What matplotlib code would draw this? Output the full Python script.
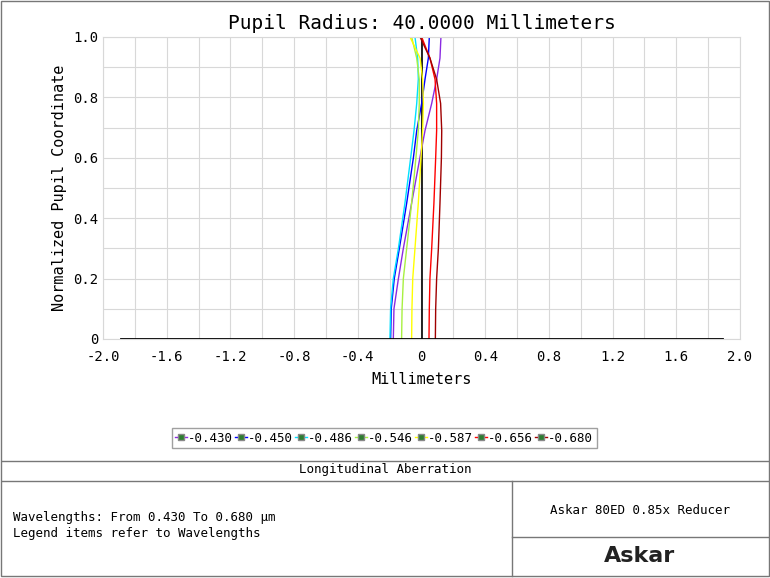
import matplotlib.pyplot as plt
import numpy as np
from matplotlib.lines import Line2D
from matplotlib.patches import Rectangle

plt.rcParams['font.family'] = ['DejaVu Sans Mono', 'DejaVu Sans']

pupil = [0.0, 0.1, 0.2, 0.3, 0.45, 0.6, 0.69, 0.78, 0.86, 0.93, 1.0]
wavelengths = ['0.430', '0.450', '0.486', '0.546', '0.587', '0.656', '0.680']
colors = ['#8a2be2', '#0000ff', '#00e0ff', '#a8f040', '#ffff00', '#ff0000', '#a00000']
shift_430 = [-0.177, -0.173, -0.145, -0.114, -0.062, -0.010, 0.022, 0.064, 0.095, 0.116, 0.122]
shift_450 = [-0.194, -0.190, -0.171, -0.139, -0.093, -0.051, -0.030, 0.001, 0.022, 0.043, 0.049]
shift_486 = [-0.198, -0.194, -0.177, -0.145, -0.104, -0.068, -0.047, -0.030, -0.020, -0.024, -0.041]
shift_546 = [-0.125, -0.122, -0.114, -0.093, -0.062, -0.035, -0.020, -0.014, -0.014, -0.030, -0.062]
shift_587 = [-0.062, -0.060, -0.055, -0.041, -0.020, -0.003, 0.007, 0.012, 0.007, -0.009, -0.072]
shift_656 = [0.047, 0.049, 0.053, 0.064, 0.078, 0.089, 0.095, 0.095, 0.085, 0.053, 0.001]
shift_680 = [0.087, 0.089, 0.095, 0.106, 0.116, 0.125, 0.127, 0.120, 0.095, 0.053, -0.009]
shifts = [shift_430, shift_450, shift_486, shift_546, shift_587, shift_656, shift_680]

W, H = 770, 578
fig = plt.figure(figsize=(7.7, 5.78), dpi=100)

def fx(px):
    return px / W

def fy(py):
    return 1 - py / H

ax = fig.add_axes([fx(103), fy(339), fx(740) - fx(103), fy(37) - fy(339)])
ax.axvline(0, color='black', lw=1.2, zorder=1)
for s, c in zip(shifts, colors):
    ax.plot(s, pupil, color=c, lw=1, zorder=2)
ax.plot([-1.89, 1.89], [0, 0], color='black', lw=2, zorder=3)
ax.set_xlim(-2.0, 2.0)
ax.set_ylim(0, 1.0)
ax.set_xticks(np.arange(-2.0, 2.01, 0.4))
ax.set_xticklabels(['-2.0', '-1.6', '-1.2', '-0.8', '-0.4', '0', '0.4', '0.8', '1.2', '1.6', '2.0'])
ax.set_yticks(np.arange(0, 1.01, 0.2))
ax.set_yticklabels(['0', '0.2', '0.4', '0.6', '0.8', '1.0'])
ax.set_xticks(np.arange(-2.0, 2.01, 0.2), minor=True)
ax.set_yticks(np.arange(0, 1.01, 0.1), minor=True)
ax.grid(True, which='both', color='#d8d8d8', lw=0.8)
ax.tick_params(labelsize=10, length=0, which='both')
ax.tick_params(axis='x', pad=8)
for sp in ax.spines.values():
    sp.set_color('#d8d8d8')
ax.set_axisbelow(True)
ax.set_xlabel('Millimeters', fontsize=11, labelpad=6)
ax.set_ylabel('Normalized Pupil Coordinate', fontsize=11)
ax.set_title('Pupil Radius: 40.0000 Millimeters', fontsize=14, pad=6)

# legend
handles = [Line2D([0], [0], color=c, lw=1, marker='s', markersize=4,
                  markerfacecolor='#2e7d32', markeredgecolor='#888888', markevery=[0])
           for c in colors]
leg = fig.legend(handles, ['-' + w for w in wavelengths], loc='center',
                 bbox_to_anchor=(fx(384), fy(438)), ncol=7, fontsize=9,
                 handlelength=0.9, handletextpad=0.1, columnspacing=0.2,
                 fancybox=False, edgecolor='#888888', borderpad=0.3)

# footer table lines
lc = '#777777'
def hline(y, x0=2, x1=768):
    fig.add_artist(Line2D([fx(x0), fx(x1)], [fy(y), fy(y)], color=lc, lw=1))
def vline(x, y0, y1):
    fig.add_artist(Line2D([fx(x), fx(x)], [fy(y0), fy(y1)], color=lc, lw=1))

fig.add_artist(Rectangle((fx(1), fy(576)), fx(768), fy(1) - fy(576),
                         fill=False, edgecolor=lc, lw=1))
hline(461)
hline(481)
hline(537, 512, 768)
vline(512, 481, 576)

fig.text(fx(385), fy(469), 'Longitudinal Aberration', ha='center', va='center', fontsize=9)
fig.text(fx(13), fy(518), 'Wavelengths: From 0.430 To 0.680 \u00b5m', ha='left', va='center', fontsize=9)
fig.text(fx(13), fy(533), 'Legend items refer to Wavelengths', ha='left', va='center', fontsize=9)
fig.text(fx(640), fy(511), 'Askar 80ED 0.85x Reducer', ha='center', va='center', fontsize=9)
fig.text(fx(640), fy(556), 'Askar', ha='center', va='center', fontsize=16,
         fontweight='bold', family='DejaVu Sans', color='#222222')

fig.savefig('out.png', dpi=100)
